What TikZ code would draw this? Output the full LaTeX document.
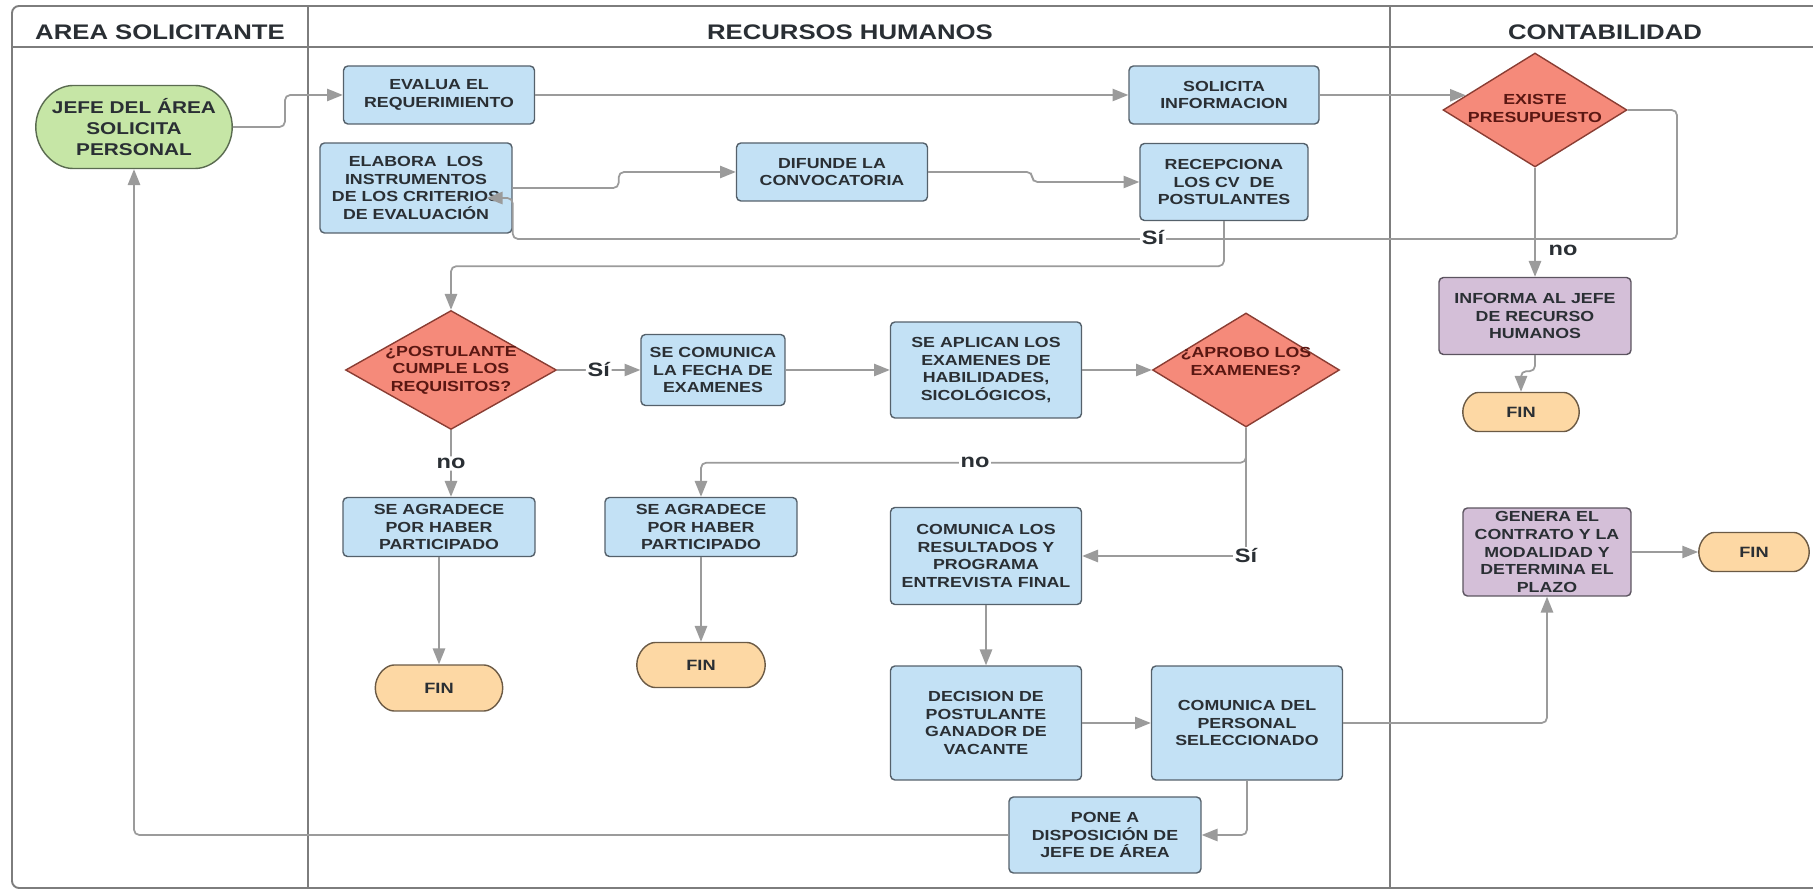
\documentclass[tikz,border=0pt]{standalone}
\usepackage{fontspec}
\usepackage{xcolor}
\usepackage{tikz}
\usetikzlibrary{
  arrows.meta,
  shapes.geometric,
  shapes.misc,
  calc
}
\newfontfamily\lucid{Liberation Sans}[FakeStretch=1.22]
\definecolor{pfBlue}{HTML}{C3E1F5}
\definecolor{pfEdge}{HTML}{55616B}
\definecolor{pfGreen}{HTML}{C6E6A6}
\definecolor{pfGreenEdge}{HTML}{5A6B50}
\definecolor{pfRed}{HTML}{F58A7A}
\definecolor{pfRedEdge}{HTML}{8A3D33}
\definecolor{pfRedText}{HTML}{5A1712}
\definecolor{pfPurple}{HTML}{D4BFD8}
\definecolor{pfPurpleEdge}{HTML}{5C5460}
\definecolor{pfFin}{HTML}{FDD8A4}
\definecolor{pfFinEdge}{HTML}{6B5A45}
\definecolor{pfLine}{HTML}{9B9B9B}
\definecolor{pfLane}{HTML}{7D7D7D}
\definecolor{pfText}{HTML}{2A2F34}

\begin{document}
\begin{tikzpicture}[x=0.02cm, y=-0.02cm,
  lane/.style={draw=pfLane, line width=1.1pt},
  head/.style={font=\lucid\bfseries\fontsize{12}{14}\selectfont, text=pfText},
  wh/.style 2 args={minimum width=#1, minimum height=#2},
  box/.style={rectangle, rounded corners=2.5pt, draw=pfEdge, fill=pfBlue, line width=0.8pt,
    align=center, text=pfText, inner sep=1pt, font=\lucid\bfseries\fontsize{8.3}{10}\selectfont},
  pbox/.style={box, draw=pfPurpleEdge, fill=pfPurple},
  start/.style={box, rounded rectangle, draw=pfGreenEdge, fill=pfGreen,
    font=\lucid\bfseries\fontsize{9.7}{12}\selectfont},
  fin/.style={box, rounded rectangle, draw=pfFinEdge, fill=pfFin, font=\lucid\bfseries\fontsize{8.5}{10}\selectfont},
  dia/.style={diamond, draw=pfRedEdge, fill=pfRed, line width=0.8pt, inner sep=0pt},
  dtext/.style={align=center, text=pfRedText, inner sep=0pt, font=\lucid\bfseries\fontsize{8.3}{10}\selectfont},
  conn/.style={draw=pfLine, line width=1pt, rounded corners=3pt, -{Triangle[length=9pt,width=7pt]}},
  lbl/.style={font=\lucid\bfseries\fontsize{11}{13}\selectfont, text=pfText, fill=white, inner sep=1pt}
]
  \useasboundingbox (0,0) rectangle (1813,891);

  % swimlanes
  \draw[lane, rounded corners=4pt] (12,6) rectangle (1840,888);
  \draw[lane] (12,47) -- (1840,47);
  \draw[lane] (308,6) -- (308,888);
  \draw[lane] (1390,6) -- (1390,888);
  \node[head] (hArea) at (160,32) {AREA SOLICITANTE};
  \node[head] (hRRHH) at (850,32) {RECURSOS HUMANOS};
  \node[head] (hCont) at (1605,32) {CONTABILIDAD};

  % area solicitante
  \node[start, wh={4.0cm}{1.66cm}] (jefe) at (134,127) {JEFE DEL ÁREA\\SOLICITA\\PERSONAL};

  % recursos humanos
  \node[box, wh={3.82cm}{1.16cm}] (evalua) at (439,95) {EVALUA EL\\REQUERIMIENTO};
  \node[box, wh={3.80cm}{1.16cm}] (solicita) at (1224,95) {SOLICITA\\INFORMACION};
  \node[box, wh={3.84cm}{1.80cm}] (elabora) at (416,188) {ELABORA\ \ LOS\\INSTRUMENTOS\\DE LOS CRITERIOS\\DE EVALUACIÓN};
  \node[box, wh={3.82cm}{1.16cm}] (difunde) at (832,172) {DIFUNDE LA\\CONVOCATORIA};
  \node[box, wh={3.36cm}{1.54cm}] (recepciona) at (1224,182) {RECEPCIONA\\LOS CV\ \ DE\\POSTULANTES};
  \node[dia, wh={4.22cm}{2.38cm}] (post) at (451,370) {};
  \node[dtext] (postT) at (post) {¿POSTULANTE\\CUMPLE LOS\\REQUISITOS?};
  \node[box, wh={2.88cm}{1.42cm}] (fecha) at (713,370) {SE COMUNICA\\LA FECHA DE\\EXAMENES};
  \node[box, wh={3.82cm}{1.92cm}] (aplican) at (986,370) {SE APLICAN LOS\\EXAMENES DE\\HABILIDADES,\\SICOLÓGICOS,};
  \node[dia, wh={3.74cm}{2.28cm}] (aprobo) at (1246,370) {};
  \node[dtext] (aproboT) at ([yshift=5pt]aprobo) {¿APROBO LOS\\EXAMENES?};
  \node[box, wh={3.84cm}{1.18cm}] (agrad1) at (439,527) {SE AGRADECE\\POR HABER\\PARTICIPADO};
  \node[box, wh={3.84cm}{1.18cm}] (agrad2) at (701,527) {SE AGRADECE\\POR HABER\\PARTICIPADO};
  \node[box, wh={3.82cm}{1.94cm}] (resultados) at (986,556) {COMUNICA LOS\\RESULTADOS Y\\PROGRAMA\\ENTREVISTA FINAL};
  \node[fin, wh={2.62cm}{0.92cm}] (fin1) at (439,688) {FIN};
  \node[fin, wh={2.64cm}{0.90cm}] (fin2) at (701,665) {FIN};
  \node[box, wh={3.82cm}{2.28cm}] (decision) at (986,723) {DECISION DE\\POSTULANTE\\GANADOR DE\\VACANTE};
  \node[box, wh={3.82cm}{2.28cm}] (comdel) at (1247,723) {COMUNICA DEL\\PERSONAL\\SELECCIONADO};
  \node[box, wh={3.84cm}{1.52cm}] (pone) at (1105,835) {PONE A\\DISPOSICIÓN DE\\JEFE DE ÁREA};

  % contabilidad
  \node[dia, wh={3.68cm}{2.28cm}] (existe) at (1535,110) {};
  \node[dtext] (existeT) at ([yshift=1pt]existe) {EXISTE\\PRESUPUESTO};
  \node[pbox, wh={3.84cm}{1.54cm}] (informa) at (1535,316) {INFORMA AL JEFE\\DE RECURSO\\HUMANOS};
  \node[fin, wh={2.40cm}{0.78cm}] (finc1) at (1521,412) {FIN};
  \node[pbox, wh={3.36cm}{1.76cm}, inner sep=0pt] (genera) at (1547,552) {GENERA EL\\CONTRATO Y LA\\MODALIDAD Y\\DETERMINA EL\\PLAZO};
  \node[fin, wh={2.28cm}{0.78cm}] (finc2) at (1754,552) {FIN};

  % connectors
  \coordinate (siBend) at (1677,239);
  \draw[conn] (jefe.east) -- ++(52,0) |- (evalua.west);
  \draw[conn] (evalua.east) -- (solicita.west);
  \draw[conn] (solicita.east |- existe.168) -- (existe.168);
  \draw[conn] (existe.east) -| (siBend) -| ($(elabora.east)+(0,10)$) -- ++(-26,0);
  \draw[conn] (elabora.east) -- ++(106,0) |- (difunde.west);
  \draw[conn] (difunde.east) -- ++(104,0) |- (recepciona.west);
  \draw[conn] (recepciona.south) -- ++(0,45) -| (post.north);
  \draw[conn] (post.east) -- node[lbl] (si2) {Sí} (fecha.west);
  \draw[conn] (fecha.east) -- (aplican.west);
  \draw[conn] (aplican.east) -- (aprobo.west);
  \draw[conn] (post.south) -- node[lbl] (no1) {no} (post.south |- agrad1.north);
  \draw[conn] (aprobo.south) -- ++(0,35) -| (agrad2.north);
  \draw[conn] (aprobo.south) |- (resultados.east);
  \draw[conn] (agrad1.south) -- (fin1.north);
  \draw[conn] (agrad2.south) -- (fin2.north);
  \draw[conn] (resultados.south) -- (decision.north);
  \draw[conn] (decision.east) -- (comdel.west);
  \draw[conn] (comdel.south) |- (pone.east);
  \draw[conn] (comdel.east) -| (genera.south);
  \draw[conn] (pone.west) -| (jefe.south);
  \draw[conn] (existe.south) -- (informa.north);
  \draw[conn] (informa.south) -- ++(0,16) -| (finc1.north);
  \draw[conn] (genera.east) -- (finc2.west);

  % branch labels
  \node[lbl] (si1) at (1153,238) {Sí};
  \node[lbl] (no2) at (975,462) {no};
  \node[lbl] (si3) at (1246,556) {Sí};
  \node[lbl, fill=none] (no3) at (1563,250) {no};
\end{tikzpicture}
\end{document}
